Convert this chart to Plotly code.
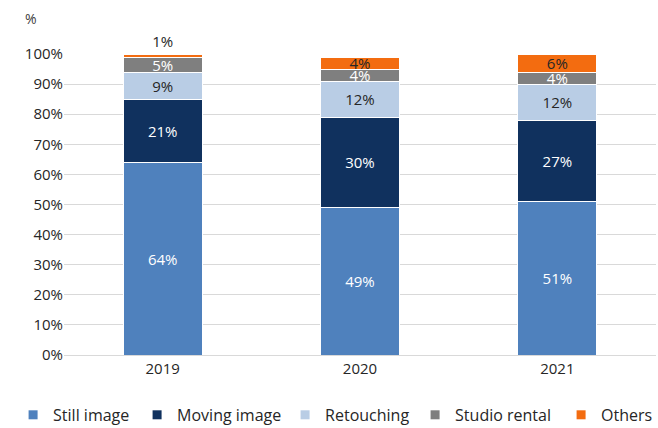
import plotly.graph_objects as go

# Share of revenue by service line, per year (percent)
years = ["2019", "2020", "2021"]
series_names = ["Still image", "Moving image", "Retouching", "Studio rental", "Others"]
still_image = [64, 49, 51]
moving_image = [21, 30, 27]
retouching = [9, 12, 12]
studio_rental = [5, 4, 4]
others = [1, 4, 6]
y_ticks = [0, 10, 20, 30, 40, 50, 60, 70, 80, 90, 100]

values = [still_image, moving_image, retouching, studio_rental, others]
colors = ["#4F81BD", "#10315E", "#B9CDE5", "#7F7F7F", "#F36C10"]
label_colors = ["white", "white", "#262626", "white", "#262626"]
legend_widths = [79, 103, 85, 101, 60]

FONT = "Open Sans"
fig = go.Figure()

for name, vals, col, lcol in zip(series_names, values, colors, label_colors):
    positions = ["inside"] * len(vals)
    if name == "Others":
        # the thin 2019 slice gets its label above the stack
        positions = ["outside" if v < 2 else "inside" for v in vals]
    fig.add_trace(go.Bar(
        x=years, y=vals, name=name,
        marker=dict(color=col, line=dict(color="white", width=1)),
        text=[f"{v}%" for v in vals],
        textposition=positions,
        insidetextanchor="middle",
        textangle=0,
        constraintext="none",
        insidetextfont=dict(family=FONT, size=15, color=lcol),
        outsidetextfont=dict(family=FONT, size=15, color="#262626"),
        cliponaxis=False,
        showlegend=False,
        hoverinfo="skip",
    ))

# legend entries with small square swatches
for name, col, lw in zip(series_names, colors, legend_widths):
    fig.add_trace(go.Scatter(
        x=[None], y=[None], mode="markers", name=name,
        marker=dict(symbol="square", size=9, color=col),
        legendwidth=lw, showlegend=True,
    ))

fig.update_layout(
    width=658, height=428,
    margin=dict(l=64, r=2, t=54, b=73, autoexpand=False),
    barmode="stack", bargap=0.6,
    plot_bgcolor="white", paper_bgcolor="white",
    font=dict(family=FONT, size=15, color="#262626"),
    uniformtext=dict(mode=False),
    legend=dict(
        orientation="h",
        x=-0.086, xanchor="left", y=-0.199, yanchor="middle",
        font=dict(family=FONT, size=16, color="#262626"),
        itemwidth=30, traceorder="normal",
    ),
    annotations=[dict(
        text="%", xref="paper", yref="paper", x=-0.055, y=1.0,
        yshift=36, xanchor="center", yanchor="middle", showarrow=False,
        font=dict(family=FONT, size=14, color="#404040"),
    )],
)

fig.update_yaxes(
    range=[0, 100], tickvals=y_ticks, ticktext=[f"{t}%" for t in y_ticks],
    showgrid=True, gridcolor="#D9D9D9", gridwidth=1,
    zeroline=False, showline=False, ticks="", ticklen=0,
    tickfont=dict(family=FONT, size=15, color="#262626"),
)
fig.update_xaxes(
    showline=True, linecolor="#D9D9D9", linewidth=1,
    ticks="", tickfont=dict(family=FONT, size=15, color="#262626"),
)

fig.write_html("out.html")
